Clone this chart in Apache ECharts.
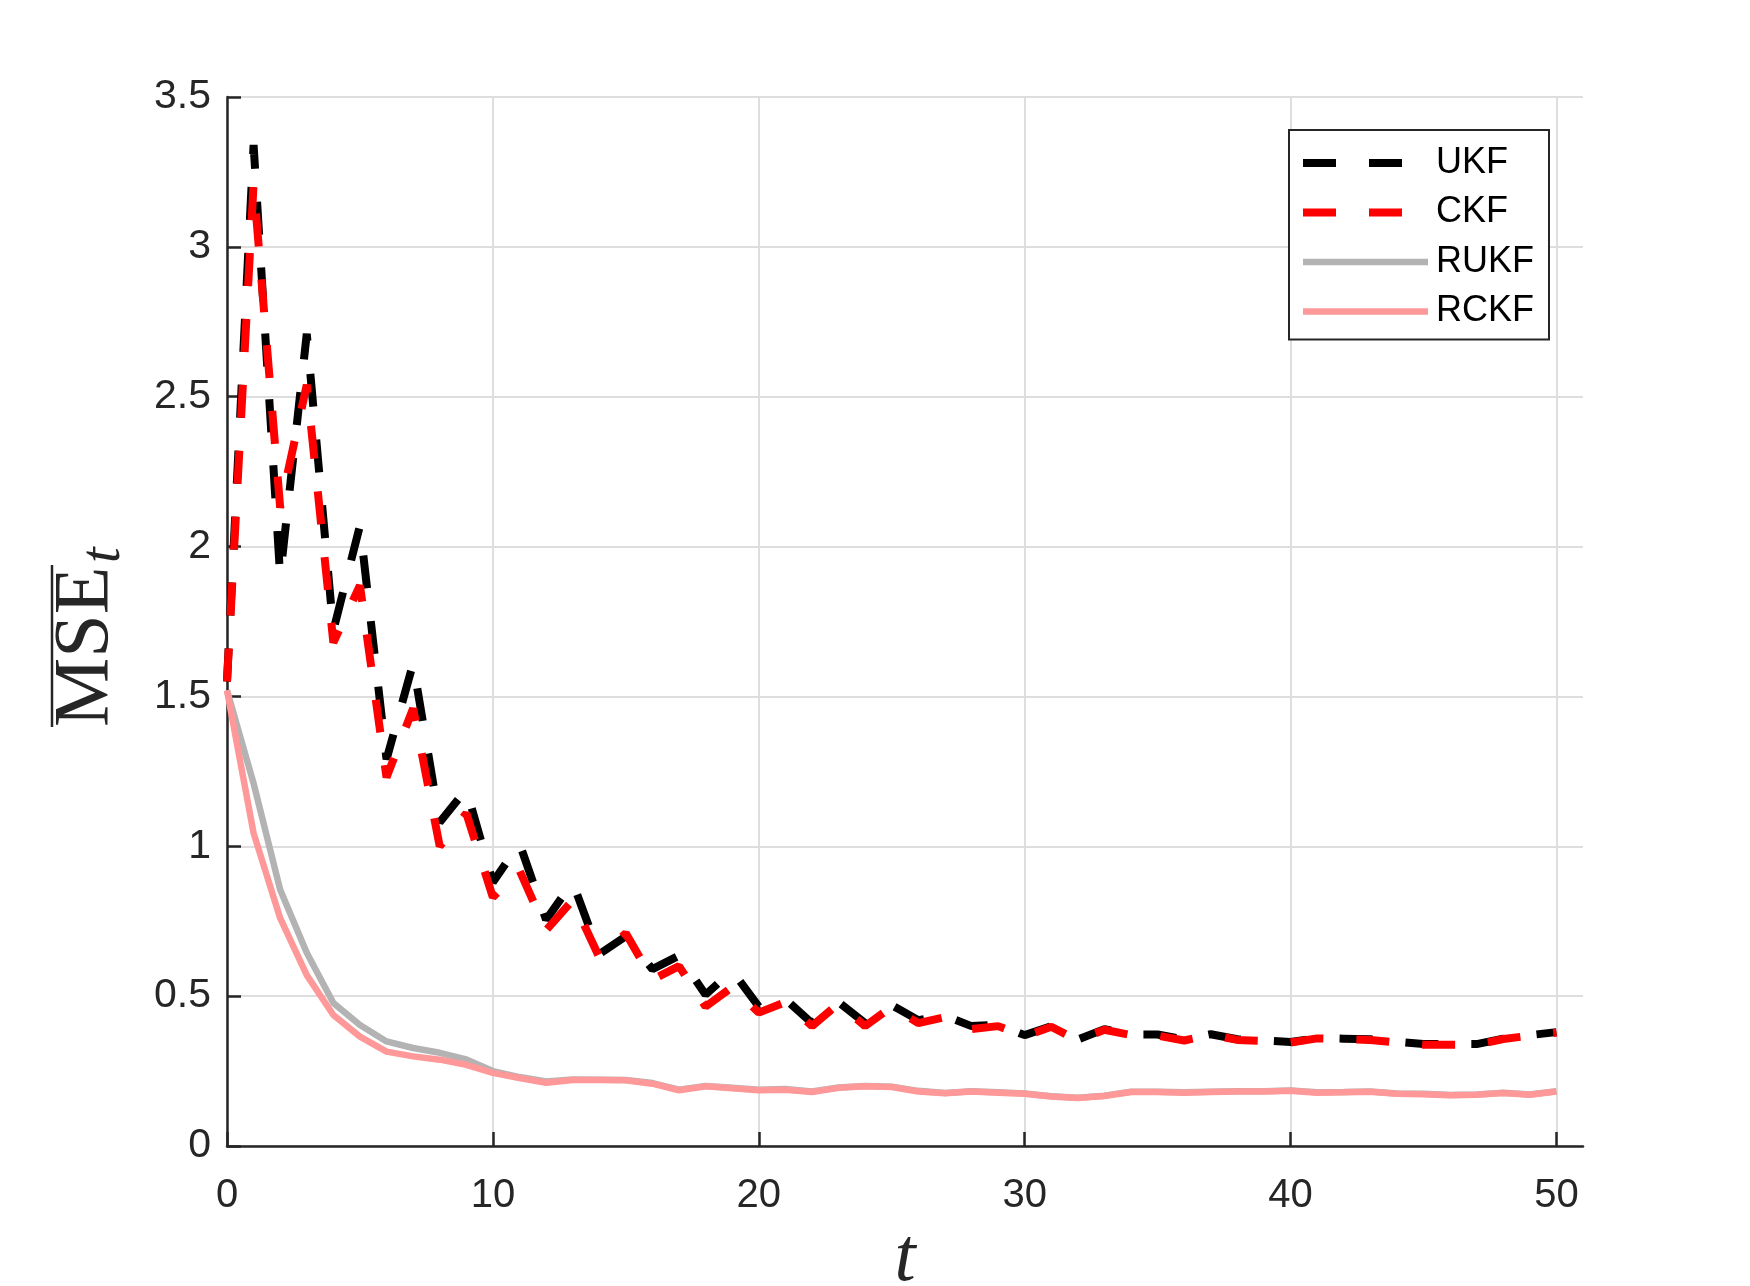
<!DOCTYPE html>
<html>
<head>
<meta charset="utf-8">
<script src="https://cdn.jsdelivr.net/npm/echarts@6/dist/echarts.min.js"></script>
<style>
  html, body { margin: 0; padding: 0; background: #fff; }
  #mse { width: 1750px; height: 1286px; }
</style>
</head>
<body>
<div id="mse"></div>
<script>
// time steps
var steps = [0, 1, 2, 3, 4, 5, 6, 7, 8, 9, 10, 11, 12, 13, 14, 15, 16, 17, 18, 19, 20,
  21, 22, 23, 24, 25, 26, 27, 28, 29, 30, 31, 32, 33, 34, 35, 36, 37, 38, 39, 40,
  41, 42, 43, 44, 45, 46, 47, 48, 49, 50]
var xTicks = [0, 10, 20, 30, 40, 50]

var ukf = [1.55, 3.34, 1.90, 2.71, 1.72, 2.07, 1.29, 1.61, 1.08, 1.19, 0.88,
  1.01, 0.755, 0.88, 0.64, 0.70, 0.59, 0.635, 0.505, 0.585, 0.465,
  0.49, 0.41, 0.48, 0.41, 0.47, 0.42, 0.435, 0.40, 0.405, 0.37,
  0.40, 0.355, 0.39, 0.372, 0.372, 0.355, 0.373, 0.356, 0.352, 0.347,
  0.36, 0.358, 0.356, 0.348, 0.34, 0.34, 0.34, 0.358, 0.37, 0.38]
var ckf = [1.55, 3.21, 2.13, 2.54, 1.68, 1.87, 1.23, 1.46, 1.00, 1.11, 0.83,
  0.92, 0.72, 0.82, 0.63, 0.71, 0.555, 0.60, 0.465, 0.53, 0.445,
  0.48, 0.40, 0.475, 0.40, 0.465, 0.41, 0.43, 0.39, 0.40, 0.366,
  0.398, 0.352, 0.388, 0.37, 0.368, 0.352, 0.371, 0.354, 0.35, 0.345,
  0.359, 0.357, 0.354, 0.345, 0.338, 0.338, 0.338, 0.357, 0.368, 0.378]
var rukf = [1.52, 1.21, 0.855, 0.645, 0.477, 0.404, 0.349, 0.327, 0.311, 0.289, 0.25,
  0.23, 0.215, 0.222, 0.221, 0.22, 0.21, 0.188, 0.2, 0.194, 0.188,
  0.19, 0.182, 0.195, 0.2, 0.198, 0.184, 0.177, 0.183, 0.179, 0.175,
  0.166, 0.161, 0.168, 0.181, 0.181, 0.179, 0.181, 0.183, 0.183, 0.185,
  0.179, 0.18, 0.182, 0.175, 0.174, 0.17, 0.172, 0.178, 0.172, 0.183]
var rckf = [1.52, 1.044, 0.76, 0.57, 0.437, 0.365, 0.315, 0.299, 0.288, 0.271, 0.244,
  0.227, 0.211, 0.22, 0.22, 0.219, 0.208, 0.186, 0.199, 0.193, 0.186,
  0.188, 0.18, 0.194, 0.199, 0.197, 0.182, 0.176, 0.182, 0.178, 0.174,
  0.165, 0.16, 0.167, 0.18, 0.18, 0.178, 0.18, 0.182, 0.182, 0.184,
  0.178, 0.179, 0.181, 0.174, 0.173, 0.169, 0.171, 0.177, 0.171, 0.182]

var pairs = function (vals) {
  return steps.map(function (t, i) { return [t, vals[i]] })
}

var axisColor = '#262626'
var gridColor = '#dedede'
var dashStyle = [33, 33]

var chart = echarts.init(document.getElementById('mse'))
var option = {
  animation: false,
  backgroundColor: '#fff',
  grid: { left: 227, right: 167, top: 97, bottom: 140, containLabel: false, outerBoundsMode: 'none' },
  legend: {
    orient: 'vertical',
    left: 1289,
    top: 130,
    padding: [13, 15, 8, 10],
    borderColor: axisColor,
    borderWidth: 2,
    backgroundColor: '#fff',
    itemWidth: 125,
    itemHeight: 8,
    itemGap: 9.5,
    itemStyle: { opacity: 0 },
    textStyle: { fontFamily: 'Liberation Sans', fontSize: 36, color: '#000', lineHeight: 34, padding: [6, 0, 0, 3] },
    data: [
      { name: 'UKF', lineStyle: { width: 8, type: dashStyle } },
      { name: 'CKF', lineStyle: { width: 8, type: dashStyle } },
      { name: 'RUKF', lineStyle: { width: 6.5 } },
      { name: 'RCKF', lineStyle: { width: 6.5 } }
    ]
  },
  xAxis: {
    type: 'value',
    min: 0,
    max: 51,
    interval: 10,
    name: 't',
    nameLocation: 'middle',
    nameGap: 76,
    nameTextStyle: { fontFamily: 'Liberation Serif', fontStyle: 'italic', fontSize: 76, color: axisColor },
    axisLine: { lineStyle: { color: axisColor, width: 2.5 } },
    axisTick: { inside: true, length: 14, customValues: xTicks, lineStyle: { color: axisColor, width: 2.5 } },
    axisLabel: { customValues: xTicks, margin: 30, fontFamily: 'Liberation Sans', fontSize: 40, color: axisColor },
    splitLine: { show: true, lineStyle: { color: gridColor, width: 2 } }
  },
  yAxis: {
    type: 'value',
    min: 0,
    max: 3.5,
    interval: 0.5,
    axisLine: { show: true, lineStyle: { color: axisColor, width: 2.5 } },
    axisTick: { show: true, inside: true, length: 14, lineStyle: { color: axisColor, width: 2.5 } },
    axisLabel: { margin: 16, padding: [7, 0, 0, 0], fontFamily: 'Liberation Sans', fontSize: 41, color: axisColor },
    splitLine: { show: true, lineStyle: { color: gridColor, width: 2 } }
  },
  graphic: [
    {
      // y axis name: overline MSE with subscript t
      type: 'group',
      x: 113,
      y: 727,
      rotation: Math.PI / 2,
      children: [
        {
          type: 'text',
          x: 0,
          y: -26,
          style: { text: 'MSE', font: '78px "Liberation Serif"', fill: axisColor, align: 'left', verticalAlign: 'middle' }
        },
        {
          type: 'line',
          shape: { x1: 0, y1: -61, x2: 162, y2: -61 },
          style: { stroke: axisColor, lineWidth: 2.5 }
        },
        {
          type: 'text',
          x: 164,
          y: -9,
          style: { text: 't', font: 'italic 56px "Liberation Serif"', fill: axisColor, align: 'left', verticalAlign: 'middle' }
        }
      ]
    }
  ],
  series: [
    {
      name: 'UKF',
      type: 'line',
      symbol: 'none',
      data: pairs(ukf),
      lineStyle: { color: '#000', width: 8, type: dashStyle },
      itemStyle: { color: '#000' }
    },
    {
      name: 'CKF',
      type: 'line',
      symbol: 'none',
      data: pairs(ckf),
      lineStyle: { color: '#ff0000', width: 8, type: dashStyle },
      itemStyle: { color: '#ff0000' }
    },
    {
      name: 'RUKF',
      type: 'line',
      symbol: 'none',
      data: pairs(rukf),
      lineStyle: { color: '#b3b3b3', width: 6.5 },
      itemStyle: { color: '#b3b3b3' }
    },
    {
      name: 'RCKF',
      type: 'line',
      symbol: 'none',
      data: pairs(rckf),
      lineStyle: { color: '#ff9999', width: 6.5 },
      itemStyle: { color: '#ff9999' }
    }
  ]
}
chart.setOption(option)
</script>
</body>
</html>
